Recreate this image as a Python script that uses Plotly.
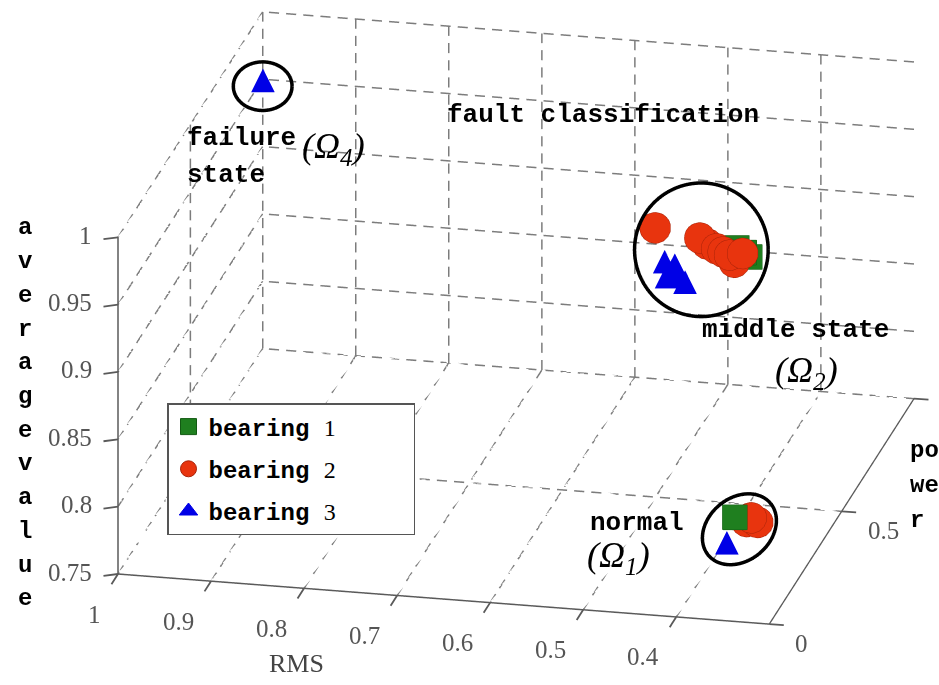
import numpy as np
import plotly.graph_objects as go

# ---------------- data (x = power, y = RMS, z = average value) ----------------
rms_ticks = [1, 0.9, 0.8, 0.7, 0.6, 0.5, 0.4]
rms_ticktext = ["1", "0.9", "0.8", "0.7", "0.6", "0.5", "0.4"]
power_ticks = [0, 0.5, 1]
power_ticktext = ["0", "0.5", ""]
avg_ticks = [0.75, 0.8, 0.85, 0.9, 0.95, 1]
avg_ticktext = ["0.75", "0.8", "0.85", "0.9", "0.95", "1"]
rms_range = [0.3, 1.0]
power_range = [0.0, 1.0]
avg_range = [0.75, 1.0]

# bearing 1 (green squares)
b1_power = [0.30, 0.50, 0.50, 0.50]
b1_rms = [0.384, 0.413, 0.405, 0.399]
b1_avg = [0.775, 0.940, 0.937, 0.934]

# bearing 2 (red circles)
b2_power = [0.40, 0.40, 0.40, 0.45, 0.45, 0.45, 0.45, 0.45, 0.45, 0.45, 0.45]
b2_rms = [0.382, 0.375, 0.387, 0.493, 0.445, 0.437, 0.427, 0.420, 0.413, 0.408, 0.399]
b2_avg = [0.758, 0.755, 0.755, 0.959, 0.954, 0.950, 0.947, 0.945, 0.943, 0.938, 0.945]

# bearing 3 (blue triangles)
b3_power = [0.20, 0.40, 0.40, 0.40, 0.40, 0.40, 0.40, 0.794]
b3_rms = [0.377, 0.475, 0.467, 0.459, 0.473, 0.453, 0.464, 0.968]
b3_avg = [0.773, 0.943, 0.937, 0.934, 0.932, 0.929, 0.941, 0.9855]

# cluster rings: centre (power, RMS, avg), semi-axes in px, tilt in degrees
ring_power = [0.794, 0.45, 0.115]
ring_rms = [0.968, 0.443, 0.350]
ring_avg = [0.981, 0.945, 0.7985]
ring_a = [29, 66, 40]
ring_b = [24, 66, 31]
ring_tilt = [0, 0, 40]

# ---------------- camera geometry ----------------
K = 2.098
aspect = np.array([1.0, 1.0, 0.538]) * K
eye_dir = np.array([-0.9155, -0.2034, 0.346])
eye_dir = eye_dir / np.linalg.norm(eye_dir)
eye = eye_dir * 2.0
PX_PER_UNIT = 669.0 / 2.13  # px per scene unit (plotly orthographic scale)

F = -eye_dir
R = np.cross(F, [0, 0, 1.0]); R /= np.linalg.norm(R)
U = np.cross(R, F)
extent = np.array([power_range[1] - power_range[0], rms_range[1] - rms_range[0], avg_range[1] - avg_range[0]])
to_data = extent / aspect

fig = go.Figure()

# dashed grid on the three back planes (dashes cut along each grid line)
gx, gy, gz = [], [], []
def seg(a, b):
    gx.extend([a[0], b[0], None]); gy.extend([a[1], b[1], None]); gz.extend([a[2], b[2], None])

def dashed(a, b, dash=10.0, gap=7.0):
    a = np.array(a, float); b = np.array(b, float)
    ds = (b - a) / to_data
    L = PX_PER_UNIT * np.hypot(R @ ds, U @ ds)
    t = 0.0
    while t < L:
        t1 = min(t + dash, L)
        seg(a + (b - a) * t / L, a + (b - a) * t1 / L)
        t += dash + gap

zf = avg_range[0]
for r in rms_ticks:
    dashed((power_range[0], r, zf), (power_range[1], r, zf))
for p in power_ticks[1:]:
    dashed((p, rms_range[0], zf), (p, rms_range[1], zf))
for r in rms_ticks[1:]:
    dashed((power_range[1], r, avg_range[0]), (power_range[1], r, avg_range[1]))
for z in avg_ticks[1:]:
    dashed((power_range[1], rms_range[0], z), (power_range[1], rms_range[1], z))
for p in power_ticks[1:]:
    dashed((p, rms_range[1], avg_range[0]), (p, rms_range[1], avg_range[1]))
for z in avg_ticks[1:]:
    dashed((power_range[0], rms_range[1], z), (power_range[1], rms_range[1], z))

fig.add_trace(go.Scatter3d(x=gx, y=gy, z=gz, mode="lines",
                           line=dict(color="#7c7c7c", width=3),
                           showlegend=False, hoverinfo="skip"))

# rings
th = np.linspace(0, 2 * np.pi, 121)
for cp, cr, cz, a, b, tilt in zip(ring_power, ring_rms, ring_avg, ring_a, ring_b, ring_tilt):
    phi = np.radians(tilt)
    sx = a * np.cos(th) * np.cos(phi) - b * np.sin(th) * np.sin(phi)
    sy = a * np.cos(th) * np.sin(phi) + b * np.sin(th) * np.cos(phi)
    vec = (np.outer(sx, R) + np.outer(sy, U)) / PX_PER_UNIT * to_data
    fig.add_trace(go.Scatter3d(x=cp + vec[:, 0], y=cr + vec[:, 1], z=cz + vec[:, 2],
                               mode="lines", line=dict(color="black", width=7),
                               showlegend=False, hoverinfo="skip"))

fig.add_trace(go.Scatter3d(x=b1_power, y=b1_rms, z=b1_avg, mode="markers",
                           marker=dict(symbol="square", size=13, color="#1f7f1f",
                                       line=dict(color="#135a13", width=1)),
                           showlegend=False, name="bearing 1"))
fig.add_trace(go.Scatter3d(x=b2_power, y=b2_rms, z=b2_avg, mode="markers",
                           marker=dict(symbol="circle", size=18, color="#e8340e",
                                       line=dict(color="#a82208", width=1)),
                           showlegend=False, name="bearing 2"))
fig.add_trace(go.Scatter3d(x=b3_power, y=b3_rms, z=b3_avg, mode="text", text=["▲"] * len(b3_power),
                           textfont=dict(family="DejaVu Sans", size=31, color="#0000e6"),
                           textposition="middle center",
                           showlegend=False, name="bearing 3"))

# legend entries
serif = "font-family:'Liberation Serif'"
for name, sym, col, lc in [("1", "square", "#1f7f1f", "#135a13"),
                           ("2", "circle", "#e8340e", "#a82208"),
                           ("3", "triangle-up", "#0000e6", "#0000e6")]:
    fig.add_trace(go.Scatter(x=[None], y=[None], mode="markers",
                             marker=dict(symbol=sym, size=16, color=col, line=dict(color=lc, width=1)),
                             name="<b>bearing</b> <span style=\"%s\">%s</span>&nbsp;&nbsp;&nbsp;&nbsp;&nbsp;" % (serif, name),
                             legendgroup=name))

axis_common = dict(showgrid=False, zeroline=False, showbackground=False, showspikes=False,
                   showline=True, linecolor="#5a5a5a", linewidth=3,
                   ticks="", showticklabels=False, title=dict(text=""))

# tick marks and tick labels as scene annotations anchored on the axes
tick_font = dict(family="Liberation Serif", size=25, color="#555555")
tick_mark = dict(text=" ", showarrow=True, arrowhead=0, arrowwidth=1.8, arrowcolor="#5a5a5a",
                 standoff=0, startstandoff=0, font=dict(size=1), borderpad=0)
scene_ann = []
for z, t in zip(avg_ticks, avg_ticktext):
    scene_ann.append(dict(x=power_range[0], y=rms_range[1], z=z, ax=-15, ay=2, **tick_mark))
    scene_ann.append(dict(x=power_range[0], y=rms_range[1], z=z, text=t, showarrow=False,
                          xanchor="right", yanchor="middle", xshift=-24, yshift=2, font=tick_font))
for r, t in zip(rms_ticks, rms_ticktext):
    scene_ann.append(dict(x=power_range[0], y=r, z=avg_range[0], ax=-7, ay=11, **tick_mark))
    scene_ann.append(dict(x=power_range[0], y=r, z=avg_range[0], text=t, showarrow=False,
                          xanchor="right", yanchor="middle", xshift=-15, yshift=-40, font=tick_font))
for p, t in zip(power_ticks, power_ticktext):
    scene_ann.append(dict(x=p, y=rms_range[0], z=avg_range[0], ax=15, ay=1, **tick_mark))
    if t:
        scene_ann.append(dict(x=p, y=rms_range[0], z=avg_range[0], text=t, showarrow=False,
                              xanchor="left", yanchor="middle", xshift=24, yshift=-19, font=tick_font))

fig.update_layout(
    width=939, height=685, margin=dict(l=0, r=0, t=0, b=0),
    paper_bgcolor="white", plot_bgcolor="white",
    xaxis=dict(visible=False), yaxis=dict(visible=False),
    scene=dict(
        domain=dict(x=[0.099, 1.0], y=[0.0716, 1.0]),
        aspectmode="manual", aspectratio=dict(x=aspect[0], y=aspect[1], z=aspect[2]),
        camera=dict(eye=dict(x=eye[0], y=eye[1], z=eye[2]), up=dict(x=0, y=0, z=1),
                    center=dict(x=0, y=0, z=0), projection=dict(type="orthographic")),
        xaxis=dict(range=power_range, tickvals=power_ticks, **axis_common),
        yaxis=dict(range=rms_range, tickvals=rms_ticks, **axis_common),
        zaxis=dict(range=avg_range, tickvals=avg_ticks, **axis_common),
        annotations=scene_ann,
    ),
    legend=dict(x=167 / 939, y=1 - 403 / 685, xanchor="left", yanchor="top",
                bgcolor="white", bordercolor="#555555", borderwidth=1.5,
                font=dict(family="Liberation Mono", size=24, color="black"),
                tracegroupgap=8),
)

W, H = 939.0, 685.0
def ann(text, x, y, size=26, family="Liberation Mono", xanchor="left", color="black"):
    fig.add_annotation(text=text, x=x / W, y=1 - y / H, xref="paper", yref="paper",
                       showarrow=False, xanchor=xanchor, yanchor="middle",
                       font=dict(family=family, size=size, color=color))

mono_b = lambda s: "<b>%s</b>" % s
for i, ch in enumerate("averagevalue"):
    ann(mono_b(ch), 25, 228 + i * 33.7, size=24, xanchor="center")
for i, s in enumerate(["po", "we", "r"]):
    ann(mono_b(s), 908, 450 + i * 35, size=24)
ann(mono_b("fault classification"), 445, 115)
ann(mono_b("failure"), 185, 138)
ann(mono_b("state"), 185, 175)
ann(mono_b("middle state"), 700, 330)
ann(mono_b("normal"), 588, 523)
ann("<i>(Ω<sub>4</sub>)</i>", 333, 148, size=36, family="Liberation Serif", xanchor="center")
ann("<i>(Ω<sub>2</sub>)</i>", 806, 372, size=36, family="Liberation Serif", xanchor="center")
ann("<i>(Ω<sub>1</sub>)</i>", 618, 557, size=36, family="Liberation Serif", xanchor="center")
ann("RMS", 296, 663, size=26, family="Liberation Serif", xanchor="center", color="#444444")

fig.write_html("out.html")
